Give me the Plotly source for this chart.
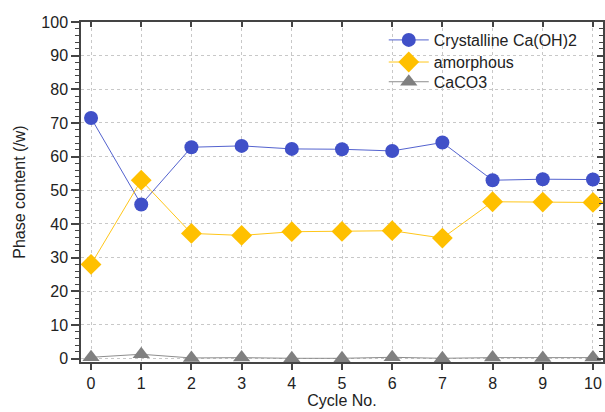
import plotly.graph_objects as go

cycles = [0, 1, 2, 3, 4, 5, 6, 7, 8, 9, 10]
crystalline = [71.5, 45.8, 62.8, 63.2, 62.3, 62.2, 61.7, 64.2, 53.0, 53.3, 53.2]
amorphous = [28.0, 53.0, 37.2, 36.6, 37.7, 37.8, 38.0, 35.8, 46.6, 46.5, 46.4]
caco3 = [0.4, 1.3, 0.2, 0.3, 0.1, 0.1, 0.4, 0.1, 0.3, 0.2, 0.3]

names = ["Crystalline Ca(OH)2", "amorphous", "CaCO3"]
colors = ["#4050C8", "#FFC000", "#808080"]
symbols = ["circle", "diamond", "triangle-up"]
sizes = [14, 16, 15]
legends = ["legend", "legend2", "legend3"]
legend_y = [0.947, 0.882, 0.824]

fig = go.Figure()
for name, ys, c, s, sz, lg in zip(names, [crystalline, amorphous, caco3], colors, symbols, sizes, legends):
    fig.add_trace(go.Scatter(
        x=cycles, y=ys, name=name, mode="lines+markers",
        line=dict(color=c, width=0.9),
        marker=dict(symbol=s, size=sz, color=c, line=dict(width=0)),
        legend=lg,
    ))

# dummy trace for mirrored inside ticks
fig.add_trace(go.Scatter(x=[None], y=[None], xaxis="x2", yaxis="y2", showlegend=False, hoverinfo="skip"))

font = dict(family="Liberation Sans, Arial, sans-serif", size=16, color="#222")
axcol = "#444"

legend_common = dict(x=0.58, xanchor="left", yanchor="middle",
                     bgcolor="rgba(0,0,0,0)", font=dict(size=16, color="#222"),
                     itemwidth=40)

fig.update_layout(
    width=605, height=412,
    margin=dict(l=81, r=2, t=22, b=50),
    paper_bgcolor="white", plot_bgcolor="white",
    font=font,
    showlegend=True,
    legend=dict(y=legend_y[0], **legend_common),
    legend2=dict(y=legend_y[1], **legend_common),
    legend3=dict(y=legend_y[2], **legend_common),
    xaxis=dict(
        range=[-0.2, 10.2], tickmode="array", tickvals=cycles,
        ticktext=[str(c) for c in cycles],
        showgrid=True, gridcolor="#C8C8C8", griddash="dot", gridwidth=1,
        showline=True, linecolor=axcol, linewidth=1.5,
        ticks="outside", ticklen=6, tickwidth=1.5, tickcolor=axcol,
        zeroline=False,
        title=dict(text="Cycle No.", font=dict(size=16), standoff=2),
    ),
    yaxis=dict(
        range=[-1, 100], tickmode="linear", tick0=0, dtick=10,
        showgrid=True, gridcolor="#C8C8C8", griddash="dot", gridwidth=1,
        showline=True, linecolor=axcol, linewidth=1.5,
        ticks="outside", ticklen=8, tickwidth=1.5, tickcolor=axcol,
        minor=dict(dtick=2, tick0=0, ticks="outside", ticklen=4, tickwidth=1.2,
                   tickcolor=axcol, showgrid=False),
        zeroline=False,
        title=dict(text="Phase content (/w)", font=dict(size=16), standoff=12),
    ),
    xaxis2=dict(
        overlaying="x", side="top", range=[-0.2, 10.2], tickmode="array",
        tickvals=cycles, showticklabels=False, showgrid=False,
        showline=True, linecolor=axcol, linewidth=1.5,
        ticks="inside", ticklen=5, tickwidth=1.5, tickcolor=axcol, zeroline=False,
    ),
    yaxis2=dict(
        overlaying="y", side="right", anchor="x2", range=[-1, 100],
        tickmode="linear", tick0=0, dtick=10, showticklabels=False, showgrid=False,
        showline=True, linecolor=axcol, linewidth=1.5,
        ticks="inside", ticklen=6, tickwidth=1.5, tickcolor=axcol,
        minor=dict(dtick=2, tick0=0, ticks="inside", ticklen=4, tickwidth=1.2,
                   tickcolor=axcol, showgrid=False),
        zeroline=False,
    ),
)

fig.write_html("out.html", config={"displayModeBar": False},
               post_script="document.body.style.margin='0';")
